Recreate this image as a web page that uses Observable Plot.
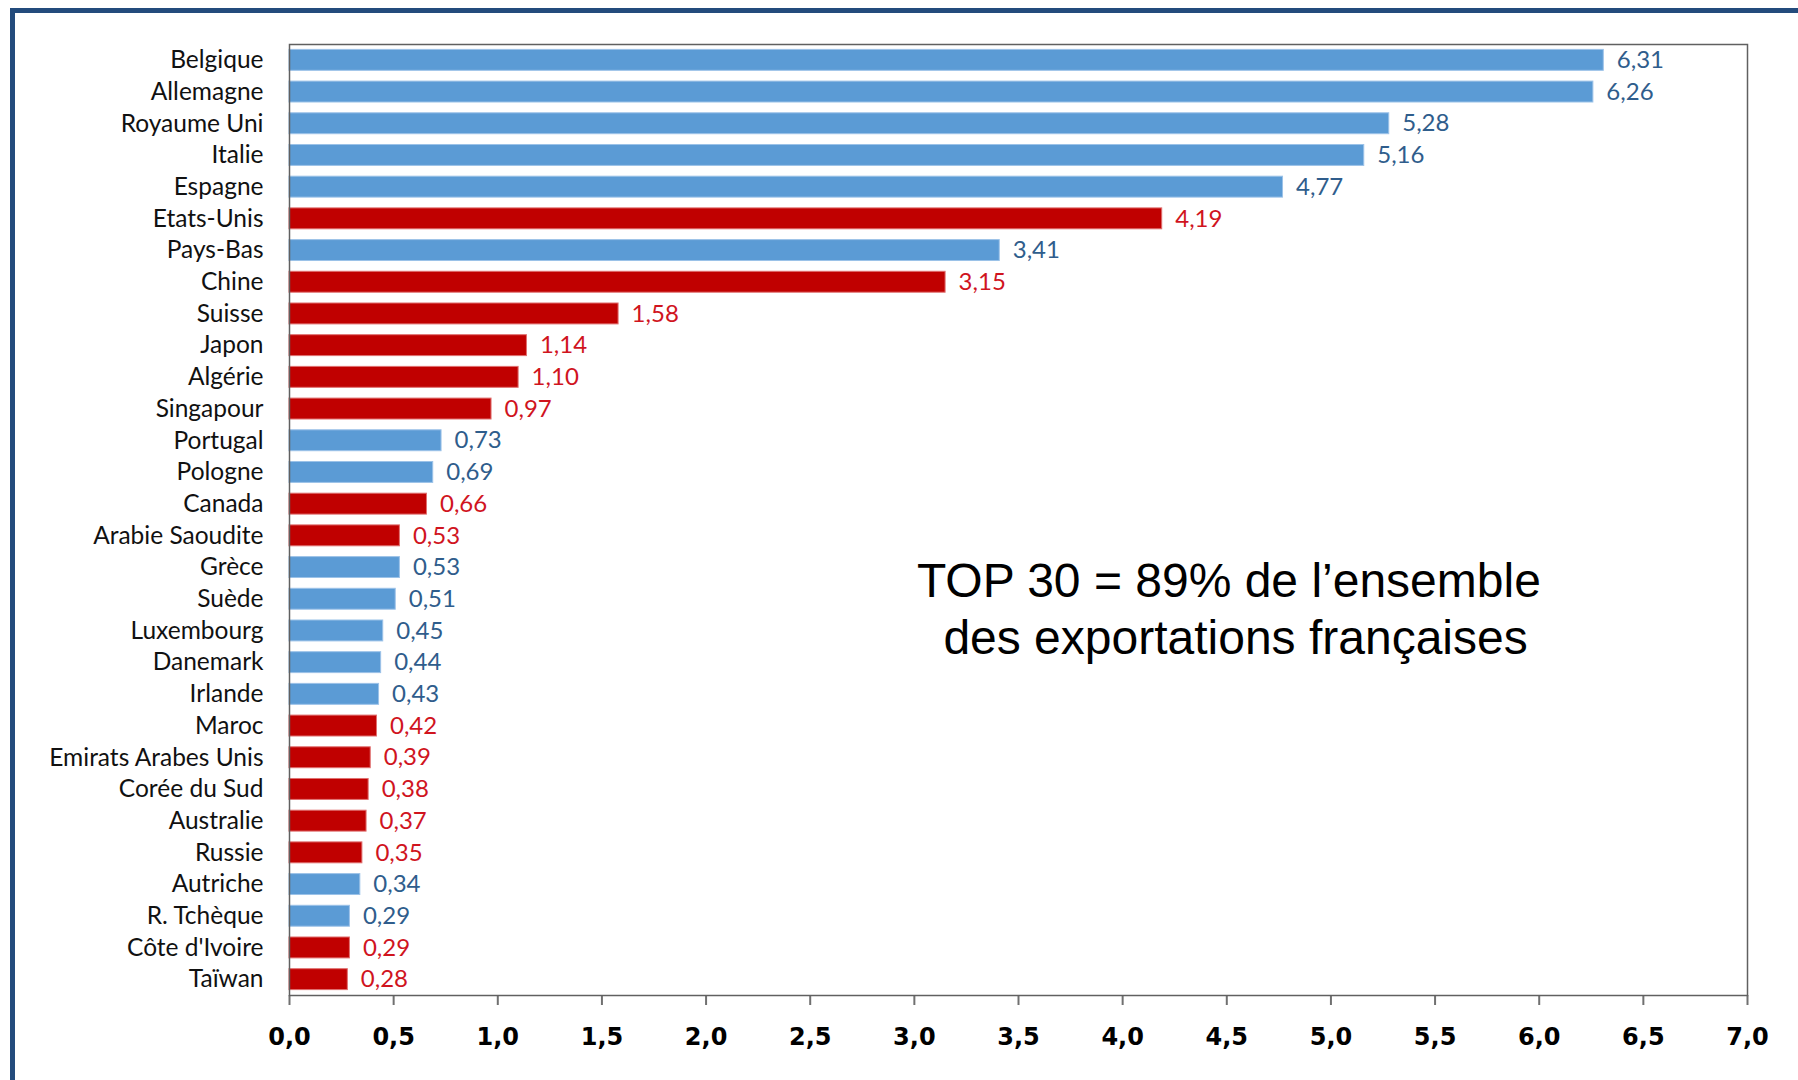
<!DOCTYPE html>
<html>
<head>
<meta charset="utf-8">
<script src="https://cdn.jsdelivr.net/npm/d3@7"></script>
<script src="https://cdn.jsdelivr.net/npm/@observablehq/plot@0.6"></script>
<style>
  html, body { margin: 0; padding: 0; background: #fff; overflow: hidden; width: 1798px; height: 1080px; }
  #border { position: absolute; left: 10px; top: 8px; width: 1820px; height: 1100px; border: 5px solid #234b7c; box-sizing: border-box; }
  #chart { position: absolute; left: 0; top: 0; }
</style>
</head>
<body>
<div id="border"></div>
<div id="chart"></div>
<script>
const countries = ["Belgique","Allemagne","Royaume Uni","Italie","Espagne","Etats-Unis","Pays-Bas","Chine","Suisse","Japon","Algérie","Singapour","Portugal","Pologne","Canada","Arabie Saoudite","Grèce","Suède","Luxembourg","Danemark","Irlande","Maroc","Emirats Arabes Unis","Corée du Sud","Australie","Russie","Autriche","R. Tchèque","Côte d'Ivoire","Taïwan"];
const values = [6.31,6.26,5.28,5.16,4.77,4.19,3.41,3.15,1.58,1.14,1.10,0.97,0.73,0.69,0.66,0.53,0.53,0.51,0.45,0.44,0.43,0.42,0.39,0.38,0.37,0.35,0.34,0.29,0.29,0.28];
const groups = ["UE","UE","UE","UE","UE","Hors UE","UE","Hors UE","Hors UE","Hors UE","Hors UE","Hors UE","UE","UE","Hors UE","Hors UE","UE","UE","UE","UE","UE","Hors UE","Hors UE","Hors UE","Hors UE","Hors UE","UE","UE","Hors UE","Hors UE"];
const xTicks = [0,0.5,1,1.5,2,2.5,3,3.5,4,4.5,5,5.5,6,6.5,7];
const annotation = ["TOP 30 = 89% de l\u2019ensemble\n des exportations françaises"];

const data = countries.map((c, i) => ({country: c, value: values[i], group: groups[i]}));
const fr = (f) => (v) => d3.format(f)(v).replace(".", ",");
const barFill = {"UE": "#5b9bd5", "Hors UE": "#c00000"};
const barStroke = {"UE": "#9cc2e8", "Hors UE": "#e07070"};
const labelFill = {"UE": "#2f5d8c", "Hors UE": "#d0141e"};

const chart = Plot.plot({
  width: 1798,
  height: 1080,
  marginLeft: 289,
  marginTop: 44,
  marginRight: 51,
  marginBottom: 85,
  style: {background: "transparent", overflow: "visible"},
  x: {domain: [0, 7], ticks: xTicks},
  y: {domain: countries, paddingInner: 0.34, paddingOuter: 0.17, round: false},
  marks: [
    Plot.barX(data, {
      x: "value", y: "country",
      fill: d => barFill[d.group],
      stroke: d => barStroke[d.group],
      strokeWidth: 1
    }),
    Plot.text(data, {
      x: "value", y: "country",
      text: d => fr(".2f")(d.value),
      fill: d => labelFill[d.group],
      textAnchor: "start", dx: 13,
      fontFamily: "Lato", fontSize: 24
    }),
    Plot.axisY({
      tickSize: 0, tickPadding: 26,
      fontFamily: "Lato", fontSize: 24.5, fill: "#111", label: null
    }),
    Plot.axisX({
      ticks: xTicks, tickFormat: fr(".1f"),
      tickSize: 10, tickPadding: 22,
      stroke: "#707070", strokeWidth: 2,
      fontFamily: "DejaVu Sans", fontWeight: "bold", fontSize: 24, fill: "#000", label: null
    }),
    Plot.frame({stroke: "#606060", strokeWidth: 1.5}),
    Plot.text(annotation, {
      x: () => 4.51, y: () => "Suède", dy: 8,
      text: d => d,
      textAnchor: "middle", lineAnchor: "middle", lineHeight: 1.2,
      fontFamily: "Liberation Sans", fontSize: 48, fill: "#000"
    })
  ]
});
document.getElementById("chart").append(chart);
</script>
</body>
</html>
